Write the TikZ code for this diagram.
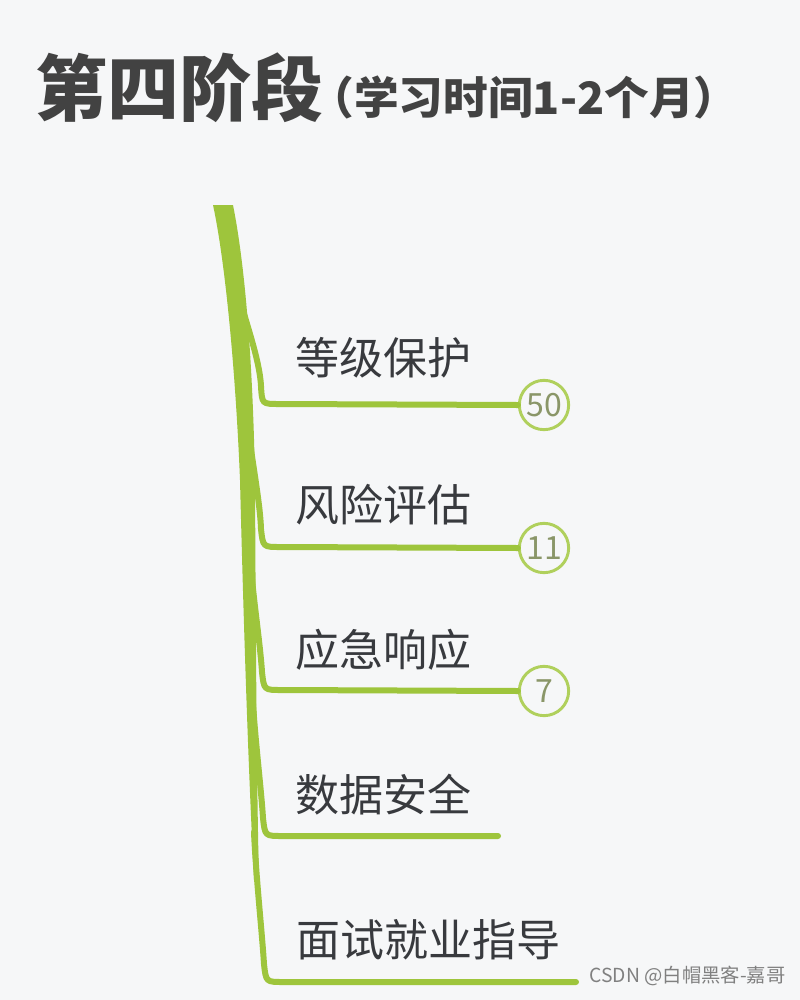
\documentclass[tikz,border=0pt]{standalone}
\usepackage{fontspec}
\newfontfamily\cjk{Noto Sans CJK SC}
\definecolor{bgcol}{RGB}{246,247,248}
\definecolor{branchcol}{RGB}{158,197,60}
\definecolor{badgecol}{RGB}{176,208,92}
\definecolor{badgetext}{RGB}{138,150,104}
\definecolor{textcol}{RGB}{56,58,62}
\definecolor{titlecol}{RGB}{66,66,66}
\tikzset{every picture/.style={line width=0.75pt}}
\tikzset{
  branch/.style={draw=branchcol, line width=4.5pt, line cap=round},
  topic/.style={anchor=west, inner sep=0pt, text=textcol, font=\cjk\fontsize{33}{40}\selectfont},
  badge/.style={circle, draw=badgecol, line width=2.2pt, fill=bgcol, minimum size=37pt, inner sep=0pt, text=badgetext, font=\cjk\fontsize{24}{28}\selectfont}
}
\begin{document}
\begin{tikzpicture}[x=0.75pt,y=0.75pt,yscale=-1,xscale=1]
\useasboundingbox (0,0) rectangle (800,1000);
\fill [bgcol] (0,0) rectangle (800,1000);

% Text Node
\node [anchor=west, inner sep=0pt, text=titlecol, font=\cjk\bfseries\fontsize{54}{62}\selectfont] (title) at (35,88) {第四阶段};
% Text Node
\node [anchor=west, inner sep=0pt, text=titlecol, font=\cjk\bfseries\fontsize{33.5}{38}\selectfont] (subtitle) at (309,97) {（学习时间1-2个月）};

%Trunk
\fill [branchcol] (213,205) .. controls (226,265) and (236,380) .. (240,480) .. controls (245,680) and (250,800) .. (254,880) -- (259,880) .. controls (257,800) and (256,680) .. (255,480) .. controls (253,370) and (246,270) .. (233,205) -- cycle ;

\coordinate (t1) at (230,254);
\coordinate (t2) at (245,397);
\coordinate (t3) at (249,540);
\coordinate (t4) at (252,686);
\coordinate (t5) at (254,832);
\coordinate (e4) at (498,836);
\coordinate (e5) at (576,982);

% Badges
\node [badge] (b1) at (544,405) {50};
\node [badge] (b2) at (544,548) {11};
\node [badge] (b3) at (544,691) {7};

%Curve Lines
\draw [branch] (t1) .. controls (236,300) and (259,350) .. (261,386) .. controls (262,404) .. (279,404) -- (b1.west) ;
\draw [branch] (t2) .. controls (248,442) and (260,497) .. (261,529) .. controls (263,547) .. (280,547) -- (b2.west) ;
\draw [branch] (t3) .. controls (251,585) and (260,640) .. (262,672) .. controls (264,690) .. (281,690) -- (b3.west) ;
\draw [branch] (t4) .. controls (254,731) and (261,786) .. (263,818) .. controls (265,836) .. (282,836) -- (e4) ;
\draw [branch] (t5) .. controls (256,877) and (262,932) .. (264,964) .. controls (266,982) .. (283,982) -- (e5) ;

% Text Node
\node [topic] (l1) at (295,358) {等级保护};
\node [topic] (l2) at (295,505) {风险评估};
\node [topic] (l3) at (295,650) {应急响应};
\node [topic] (l4) at (295,795) {数据安全};
\node [topic] (l5) at (296,940) {面试就业指导};

% Text Node
\node [anchor=east, inner sep=0pt, text=black!50, font=\cjk\fontsize{14.5}{16}\selectfont] (mark) at (786,976) {CSDN @白帽黑客-嘉哥};

\end{tikzpicture}
\end{document}
